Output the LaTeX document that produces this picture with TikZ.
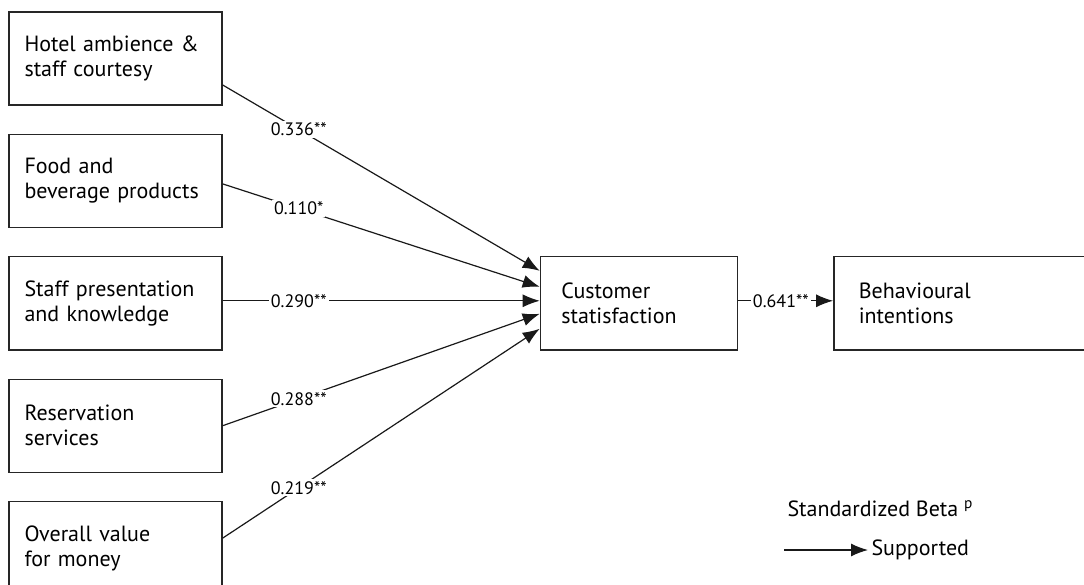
\documentclass[tikz,border=0pt]{standalone}
\usepackage{fontspec}
\setmainfont{PT Sans}
\usetikzlibrary{positioning,arrows.meta}

\begin{document}
\begin{tikzpicture}[
        x=1pt, y=-1pt,
        factornode/.style={rectangle, draw=black!85, line width=1.4pt, text width=182pt, minimum width=213pt, minimum height=93pt, inner xsep=15.5pt, align=left, font=\fontsize{22}{25}\selectfont},
        outcomenode/.style={factornode, text width=155pt, minimum width=197pt, inner xsep=21pt},
        pathline/.style={draw=black!90, line width=1.2pt, -{Latex[length=17pt,width=13pt]}},
        coefflabel/.style={fill=white, inner sep=2pt, pos=0.24, font=\fontsize{18}{18}\selectfont},
        legendtext/.style={font=\fontsize{22}{25}\selectfont},
]
        \useasboundingbox (0,0) rectangle (1084,585);

        \node[factornode] (ambience) at (115.5,58.5) {Hotel ambience \&\\staff courtesy};
        \node[factornode] (food) [below=28pt of ambience] {Food and\\beverage products};
        \node[factornode] (presentation) [below=28pt of food] {Staff presentation\\and knowledge};
        \node[factornode] (reservation) [below=28pt of presentation] {Reservation\\services};
        \node[factornode] (value) [below=28pt of reservation] {Overall value\\for money};
        \node[outcomenode] (satisfaction) [right=317pt of presentation] {Customer\\statisfaction};
        \node[outcomenode, text width=214pt, minimum width=260pt, inner xsep=25pt] (intentions) [right=95pt of satisfaction] {Behavioural\\intentions};

        \draw[pathline] ([yshift=-26.5pt]ambience.east) -- node[coefflabel] {0.336**} ([yshift=32.5pt]satisfaction.west);
        \draw[pathline] ([yshift=-3pt]food.east) -- node[coefflabel] {0.110*} ([yshift=16.5pt]satisfaction.west);
        \draw[pathline] ([yshift=2.5pt]presentation.east) -- node[coefflabel] {0.290**} ([yshift=2.5pt]satisfaction.west);
        \draw[pathline] (reservation.east) -- node[coefflabel] {0.288**} ([yshift=-10.5pt]satisfaction.west);
        \draw[pathline] ([yshift=10pt]value.east) -- node[coefflabel] {0.219**} ([yshift=-25.5pt]satisfaction.west);
        \draw[pathline] ([yshift=2.5pt]satisfaction.east) -- node[coefflabel, pos=0.45] {0.641**} ([yshift=2.5pt]intentions.west);

        % legend
        \node[legendtext, anchor=base west] (beta) at (784,516) {Standardized Beta \textsuperscript{p}};
        \node[legendtext, anchor=base west] (supported) at (868,555) {Supported};
        \coordinate (legendtail) at (784,550);
        \draw[pathline] (legendtail) -- (legendtail -| supported.west);
\end{tikzpicture}
\end{document}
